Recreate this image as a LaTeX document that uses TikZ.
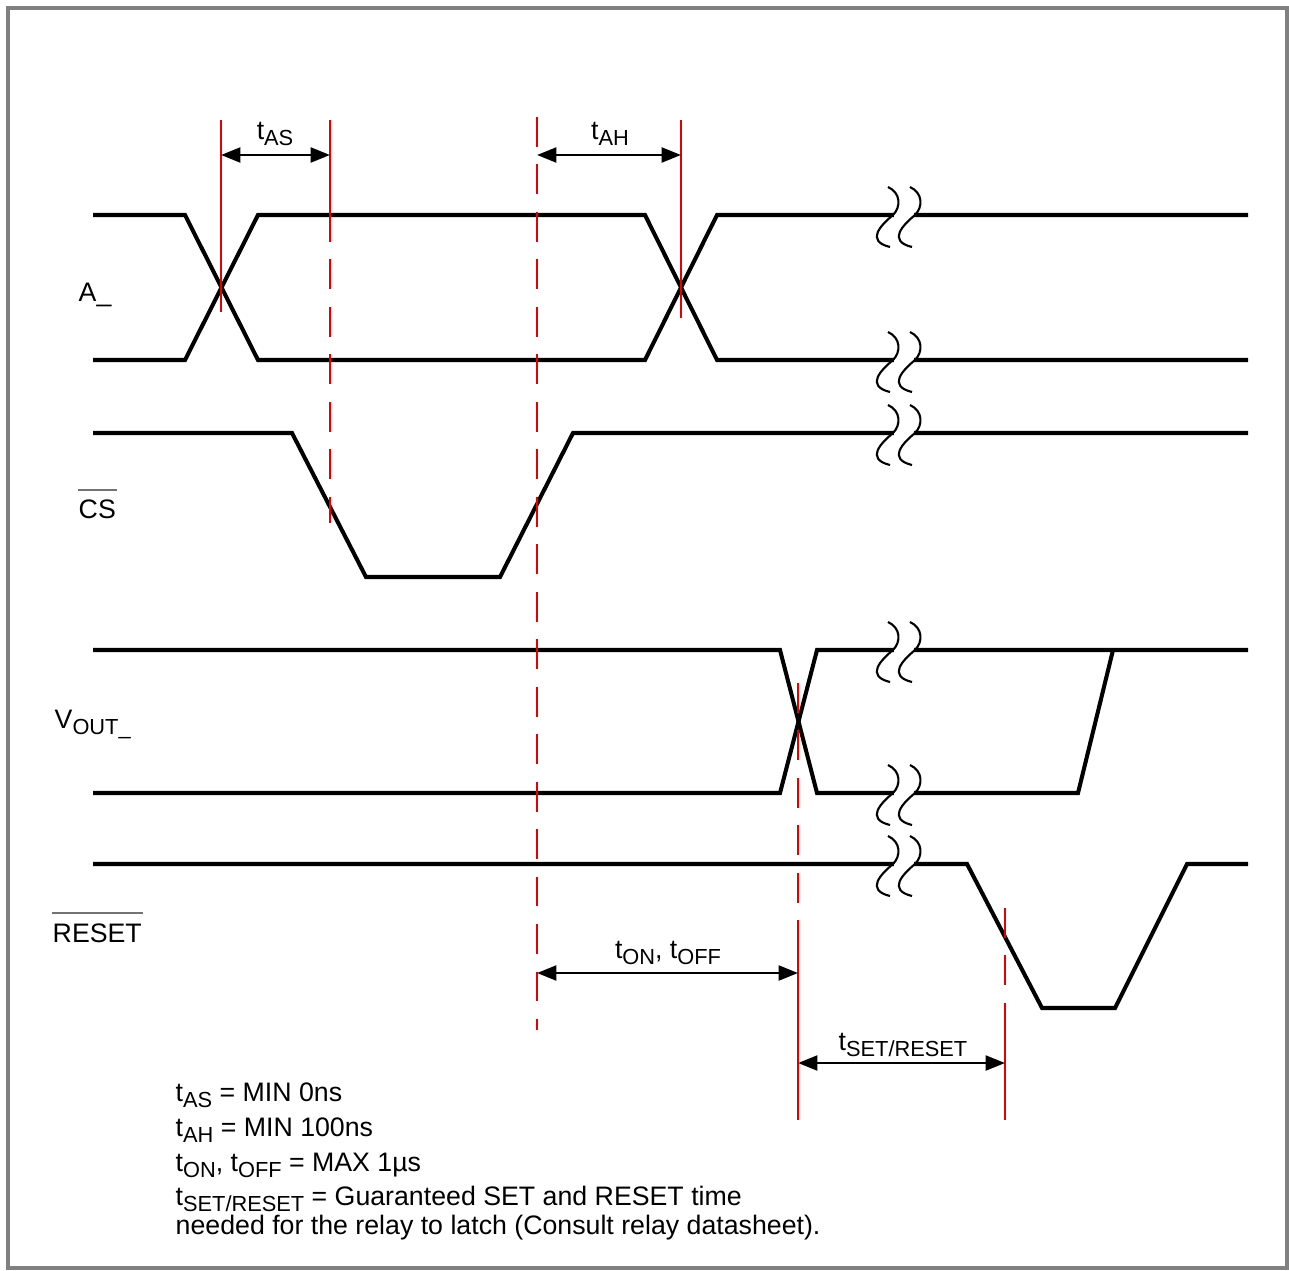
\documentclass[tikz,border=0pt]{standalone}
\usepackage{fontspec}
\setmainfont{Liberation Sans}
\usetikzlibrary{arrows.meta}
\newcommand{\tsub}[1]{\raisebox{-0.45ex}{\fontsize{6.2}{7}\selectfont #1}}
\tikzset{
  sig/.style={line width=1.15pt},
  redline/.style={red!90!black,line width=0.55pt},
  reddash/.style={redline,dash pattern=on 8.5pt off 5pt},
  dim/.style={<->,line width=0.8pt},
  lbl/.style={inner sep=0pt,font=\fontsize{7.6}{9}\selectfont},
  overbar/.style={black!55,line width=0.6pt},
  brk/.pic={
    \draw[white,line width=2.6pt] (1,0) -- (21,0);
    \foreach \dx in {0,22}
      \draw[line width=0.6pt,shift={(\dx,0)}] (-5,-28) .. controls (8,-22) and (8,-8) .. (0,0)
        .. controls (-12,10) and (-28,26) .. (-3,32);
  }
}
\begin{document}
\begin{tikzpicture}[x=0.01cm,y=-0.01cm,>={Triangle[length=5.5pt,width=4.2pt]}]
    \useasboundingbox (0,0) rectangle (1289,1270);
    % frame
    \draw[black!50,line width=1pt] (8,8) rectangle (1287,1268);

    % A_ (both states)
    \draw[sig] (93,215) -- (185,215) -- (258,360) -- (645,360) -- (717,215) -- (1248,215);
    \draw[sig] (93,360) -- (185,360) -- (258,215) -- (645,215) -- (717,360) -- (1248,360);
    \node[lbl,anchor=base west] (lblA) at (78,301) {A\_};

    % CS
    \draw[sig] (93,433) -- (292,433) -- (366,577) -- (500,577) -- (573,433) -- (1248,433);
    \node[lbl,anchor=base west] (lblCS) at (78,518) {CS};
    \draw[overbar] ([yshift=2.5pt]lblCS.north west) -- ([yshift=2.5pt]lblCS.north east);

    % VOUT_
    \draw[sig] (93,650) -- (780,650) -- (817,793) -- (1078,793) -- (1113,650);
    \draw[sig] (93,793) -- (780,793) -- (817,650) -- (1248,650);
    \node[lbl,anchor=base west] (lblVout) at (54,728) {V\tsub{OUT\_}};

    % RESET
    \draw[sig] (93,864) -- (967,864) -- (1042,1008) -- (1115,1008) -- (1187,864) -- (1248,864);
    \node[lbl,anchor=base west] (lblRst) at (52,942) {RESET};
    \draw[overbar] ([yshift=2.8pt]lblRst.north west) -- ([yshift=2.8pt]lblRst.north east);

    % time breaks
    \foreach \y in {215,360,433,650,793,864}
      \pic at (893,\y) {brk};

    % t_AS markers
    \draw[redline] (221,120) -- (221,312);
    \draw[redline] (330,120) -- (330,212);
    \draw[reddash] (330,212) -- (330,523);
    \draw[dim] (221,155) -- (330,155);
    \node[lbl] (lblTas) at (275,134) {t\tsub{AS}};

    % t_AH markers
    \draw[reddash] (537,117) -- (537,1030);
    \draw[redline] (681,120) -- (681,318);
    \draw[dim] (537,155) -- (681,155);
    \node[lbl] (lblTah) at (610,134) {t\tsub{AH}};

    % t_ON, t_OFF
    \draw[reddash] (798,683) -- (798,930);
    \draw[redline] (798,930) -- (798,1120);
    \draw[dim] (537,973) -- (798,973);
    \node[lbl] (lblTon) at (668,953) {t\tsub{ON}, t\tsub{OFF}};

    % t_SET/RESET
    \draw[reddash] (1005,908) -- (1005,1030);
    \draw[redline] (1005,1030) -- (1005,1120);
    \draw[dim] (798,1063) -- (1005,1063);
    \node[lbl] (lblTset) at (903,1045) {t\tsub{SET/RESET}};

    % notes
    \node[lbl,anchor=base west] (note1) at (175,1101) {t\tsub{AS} = MIN 0ns};
    \node[lbl,anchor=base west] (note2) at (175,1136) {t\tsub{AH} = MIN 100ns};
    \node[lbl,anchor=base west] (note3) at (175,1171) {t\tsub{ON}, t\tsub{OFF} = MAX 1µs};
    \node[lbl,anchor=base west] (note4) at (175,1205) {t\tsub{SET/RESET} = Guaranteed SET and RESET time};
    \node[lbl,anchor=base west] (note5) at (175,1234) {needed for the relay to latch (Consult relay datasheet).};
\end{tikzpicture}
\end{document}
